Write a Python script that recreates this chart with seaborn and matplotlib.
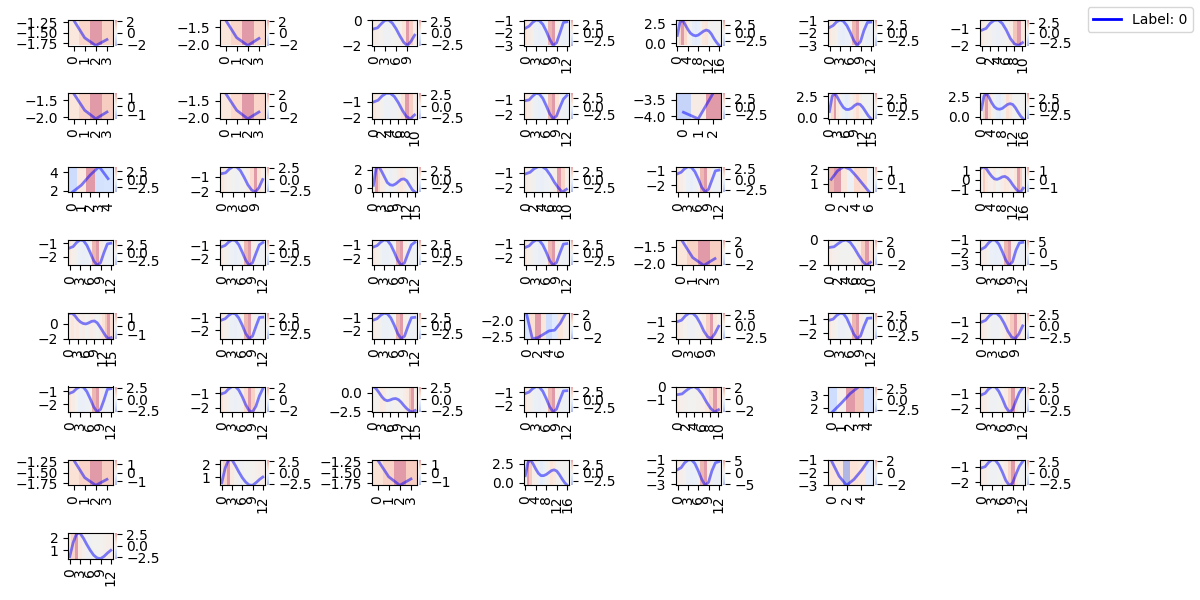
import numpy as np
import pandas as pd
import matplotlib
matplotlib.use("Agg")
import matplotlib.pyplot as plt
from matplotlib.lines import Line2D
from matplotlib.ticker import MultipleLocator
import seaborn as sns

# ---------------- data ----------------
LEGEND_LABEL = "Label: 0"

SERIES = [
    [-1.20, -1.62, -1.80, -1.66],
    [-1.30, -1.80, -2.02, -1.82],
    [-0.70, -0.62, -0.30, -0.02, 0.00, -0.25, -0.70, -1.25, -1.75, -2.02, -1.70, -1.20],
    [-1.60, -1.45, -1.15, -0.95, -1.00, -1.30, -1.85, -2.50, -3.02, -2.80, -2.00, -1.15, -1.10],
    [1.00, 2.70, 3.00, 2.40, 1.80, 1.30, 1.05, 0.95, 1.05, 1.30, 1.55, 1.70, 1.60, 1.20, 0.60, 0.10, -0.30],
    [-1.55, -1.40, -1.10, -0.95, -1.05, -1.40, -1.95, -2.60, -3.02, -2.70, -1.80, -1.15, -1.12],
    [-1.10, -1.00, -0.70, -0.52, -0.50, -0.70, -1.10, -1.60, -1.92, -2.02, -1.85],
    [-1.30, -1.80, -2.05, -1.85],
    [-1.28, -1.78, -2.03, -1.83],
    [-1.00, -0.90, -0.62, -0.45, -0.45, -0.65, -1.05, -1.55, -1.95, -2.10, -1.85],
    [-1.05, -1.00, -0.75, -0.55, -0.60, -0.90, -1.40, -1.95, -2.30, -2.10, -1.50, -0.95, -0.70],
    [-3.88, -4.08, -3.30],
    [0.70, 2.50, 2.85, 2.30, 1.70, 1.20, 0.95, 0.95, 1.10, 1.40, 1.60, 1.55, 1.20, 0.70, 0.20, -0.15],
    [0.90, 2.60, 2.95, 2.40, 1.75, 1.25, 1.00, 0.95, 1.05, 1.30, 1.55, 1.65, 1.55, 1.15, 0.60, 0.10, -0.25],
    [1.85, 2.60, 3.70, 4.60, 3.30],
    [-0.80, -0.75, -0.50, -0.33, -0.35, -0.60, -1.05, -1.55, -1.90, -2.05, -1.75, -1.20],
    [0.30, 2.20, 2.35, 1.80, 1.20, 0.60, 0.35, 0.30, 0.45, 0.70, 0.95, 1.00, 0.80, 0.30, -0.20, -0.45],
    [-1.05, -0.95, -0.70, -0.55, -0.55, -0.75, -1.15, -1.65, -2.05, -2.35, -2.15],
    [-1.20, -1.10, -0.85, -0.70, -0.75, -1.05, -1.55, -2.15, -2.50, -2.30, -1.65, -1.00, -0.95],
    [1.30, 1.90, 2.20, 2.00, 1.50, 0.95, 0.40],
    [1.20, 1.35, 1.10, 0.70, 0.35, 0.10, 0.05, 0.15, 0.30, 0.35, 0.20, -0.10, -0.50, -0.85, -1.15, -1.25, -0.85],
    [-1.35, -1.25, -0.95, -0.75, -0.80, -1.15, -1.70, -2.30, -2.65, -2.45, -1.70, -1.05, -1.00],
    [-1.10, -1.00, -0.75, -0.58, -0.62, -0.95, -1.50, -2.10, -2.50, -2.30, -1.60, -0.95, -0.78],
    [-1.15, -1.05, -0.80, -0.62, -0.66, -1.00, -1.55, -2.15, -2.55, -2.35, -1.65, -1.00, -0.80],
    [-1.25, -1.15, -0.88, -0.70, -0.74, -1.08, -1.62, -2.25, -2.62, -2.40, -1.68, -1.02, -0.98],
    [-1.30, -1.82, -2.05, -1.85],
    [-0.60, -0.55, -0.30, -0.08, 0.00, -0.20, -0.65, -1.20, -1.70, -2.05, -1.80],
    [-1.75, -1.60, -1.25, -1.00, -1.02, -1.35, -1.95, -2.65, -3.10, -2.80, -1.85, -1.25, -1.20],
    [1.40, 1.45, 1.10, 0.60, 0.25, 0.05, 0.00, 0.15, 0.35, 0.40, 0.15, -0.40, -1.00, -1.60, -2.00, -1.85],
    [-1.20, -1.10, -0.85, -0.67, -0.72, -1.05, -1.60, -2.25, -2.65, -2.45, -1.70, -1.00, -0.98],
    [-1.15, -1.05, -0.80, -0.63, -0.68, -1.00, -1.55, -2.20, -2.60, -2.40, -1.65, -0.98, -0.95],
    [-1.85, -2.55, -2.52, -2.42, -2.32, -2.30, -2.10, -1.80],
    [-1.00, -0.92, -0.65, -0.48, -0.48, -0.70, -1.10, -1.60, -1.95, -2.08, -1.75, -1.30],
    [-1.05, -0.98, -0.72, -0.55, -0.58, -0.92, -1.48, -2.05, -2.40, -2.20, -1.50, -0.92, -0.90],
    [-1.00, -0.90, -0.62, -0.45, -0.46, -0.68, -1.08, -1.58, -1.95, -2.06, -1.75, -1.25],
    [-1.15, -1.05, -0.80, -0.63, -0.68, -1.02, -1.58, -2.20, -2.60, -2.40, -1.68, -0.85, -0.80],
    [-1.05, -0.97, -0.72, -0.55, -0.55, -0.80, -1.25, -1.80, -2.20, -2.30, -1.90, -1.20, -0.70],
    [0.80, 0.50, 0.00, -0.55, -0.95, -1.10, -1.00, -0.85, -0.80, -0.95, -1.30, -1.75, -2.15, -2.45, -2.60, -2.40],
    [-1.10, -1.00, -0.75, -0.58, -0.62, -0.95, -1.50, -2.12, -2.52, -2.30, -1.58, -0.92, -0.90],
    [-0.60, -0.55, -0.30, -0.08, 0.01, -0.20, -0.60, -1.15, -1.62, -1.92, -1.75],
    [1.70, 2.40, 3.15, 3.70, 3.65],
    [-1.10, -1.00, -0.72, -0.55, -0.58, -0.88, -1.35, -1.90, -2.25, -2.10, -1.50, -0.95, -0.62],
    [-1.20, -1.62, -1.80, -1.66],
    [0.55, 1.70, 2.35, 2.35, 1.90, 1.40, 0.95, 0.60, 0.38, 0.35, 0.55, 0.80, 1.00],
    [-1.20, -1.60, -1.80, -1.65],
    [0.95, 2.65, 3.00, 2.45, 1.80, 1.25, 0.95, 0.95, 1.10, 1.35, 1.60, 1.70, 1.55, 1.10, 0.55, 0.05, -0.30],
    [-1.80, -1.65, -1.25, -1.02, -1.00, -1.30, -1.90, -2.60, -3.10, -2.85, -1.90, -1.25, -1.15],
    [-1.12, -2.30, -3.02, -2.55, -1.85, -1.00],
    [-1.05, -0.98, -0.70, -0.52, -0.55, -0.85, -1.32, -1.88, -2.22, -2.08, -1.48, -0.95, -0.62],
    [0.50, 1.60, 2.30, 2.35, 1.95, 1.45, 1.00, 0.62, 0.40, 0.35, 0.52, 0.78, 1.00],
]

ATTRIBUTIONS = [
    [0.5, 1.1, 2.2, 1.2],
    [0.6, 1.1, 2.2, 1.1],
    [0.5, 0.3, 0.1, -0.1, -0.1, 0.0, 0.0, 0.2, 0.8, 2.8, 1.6, 0.3],
    [1.2, 0.6, 0.4, -0.4, -0.5, -0.4, -0.2, 3.4, 4.0, 0.5, -0.3, -0.4, -0.3],
    [0.3, 2.0, 4.0, 1.8, 0.4, 0.0, -0.7, -0.9, -0.6, -0.3, 1.0, 1.2, 0.2, 0.0, -0.1, 0.0, 0.0],
    [1.0, 0.5, 0.3, -0.5, -0.6, -0.4, -0.2, 3.2, 4.0, 0.3, -0.3, -0.5, -0.4],
    [0.6, 0.3, 0.1, -0.2, -0.3, -0.2, 0.1, 0.6, 2.2, 3.2, 0.8],
    [0.4, 0.8, 1.5, 0.9],
    [0.5, 1.0, 2.2, 1.1],
    [0.7, 0.4, 0.1, -0.2, -0.2, -0.1, 0.2, 0.9, 2.8, 1.6, 0.3],
    [1.0, 0.6, 0.2, -0.3, -0.5, -0.4, -0.1, 3.0, 3.8, 1.2, -0.2, -0.3, -0.3],
    [-2.6, 0.6, 4.0],
    [0.2, 1.8, 4.0, 1.0, 0.3, -0.4, -0.8, -0.5, 0.2, 0.8, 1.6, 0.5, 0.0, 0.0, -0.1, 0.0],
    [0.3, 2.2, 4.0, 1.5, 0.3, -0.2, -0.7, -0.9, -0.4, 0.1, 1.4, 1.0, 0.2, 0.0, 0.0, -0.1, 0.0],
    [-2.2, 0.8, 4.0, -1.8, -1.6],
    [0.7, 0.3, 0.1, 0.0, -0.1, 0.0, 0.0, 0.3, 1.2, 2.8, 0.9, 0.3],
    [0.4, 3.8, 2.0, 0.7, 0.5, -0.1, -0.3, -0.2, 0.1, 0.6, 1.0, 0.7, 0.1, 0.0, 0.0, 0.2],
    [0.6, 0.4, 0.1, -0.4, -0.5, -0.3, 0.0, 0.5, 4.0, 2.0, 0.3],
    [0.8, 0.4, 0.1, -0.3, -0.4, -0.2, 0.1, 2.4, 3.0, 0.6, -0.1, -0.2, -0.1],
    [1.2, 1.5, 0.4, -0.1, 0.7, 0.6, -0.1],
    [0.2, 0.9, 0.4, 0.2, 0.1, 0.3, 0.0, 0.1, 0.2, 0.4, 0.3, 0.2, 0.1, 0.4, 1.5, 0.9, 0.1],
    [0.9, 0.4, 0.1, -0.4, -0.5, -0.4, -0.1, 3.3, 4.0, 0.6, -0.2, -0.3, -0.3],
    [0.8, 0.3, 0.1, -0.3, -0.5, -0.3, 0.0, 3.2, 4.0, 0.5, -0.2, -0.3, -0.2],
    [0.9, 0.4, 0.0, -0.4, -0.4, -0.3, -0.1, 3.4, 4.0, 0.7, -0.2, -0.2, -0.3],
    [0.8, 0.4, 0.1, -0.3, -0.5, -0.4, 0.0, 3.2, 4.0, 0.5, -0.1, -0.3, -0.2],
    [0.6, 1.2, 2.2, 1.3],
    [0.4, 0.2, 0.1, 0.0, 0.0, 0.0, 0.1, 0.4, 1.3, 2.2, 0.8],
    [1.0, 0.6, 0.2, -0.6, -0.8, -0.6, -0.2, 4.5, 5.5, 0.6, -0.4, -0.6, -0.5],
    [0.2, 0.4, 0.2, 0.3, 0.1, 0.2, 0.0, 0.1, 0.2, 0.1, 0.0, 0.2, 0.5, 1.0, 1.5, 0.6],
    [0.8, 0.3, 0.1, -0.4, -0.5, -0.3, 0.0, 3.2, 4.0, 0.4, -0.2, -0.3, -0.2],
    [0.7, 0.3, 0.1, -0.4, -0.4, -0.3, 0.0, 3.2, 4.0, 0.5, -0.2, -0.3, -0.2],
    [-0.8, 0.8, 2.2, 0.6, -1.2, -0.6, 0.6, 0.2],
    [0.6, 0.3, 0.1, -0.1, -0.1, 0.0, 0.1, 0.5, 1.6, 2.8, 0.7, 0.2],
    [0.7, 0.3, 0.0, -0.3, -0.3, -0.2, 0.0, 2.6, 3.2, 0.5, -0.2, -0.2, -0.1],
    [0.6, 0.3, 0.0, -0.1, -0.1, 0.0, 0.2, 0.8, 1.8, 2.8, 0.9, 0.2],
    [0.8, 0.4, 0.1, -0.3, -0.3, -0.2, 0.0, 2.3, 2.8, 0.4, -0.2, -0.2, -0.1],
    [0.7, 0.3, 0.1, -0.1, -0.2, -0.1, 0.1, 0.9, 2.2, 1.2, 0.1, -0.1, -0.1],
    [0.2, 0.1, 0.2, 0.6, 0.5, 0.1, -0.1, 0.0, 0.1, 0.0, 0.1, 0.3, 0.6, 2.0, 2.8, 0.4],
    [0.8, 0.4, 0.1, -0.4, -0.5, -0.3, 0.0, 3.2, 4.0, 0.5, -0.2, -0.3, -0.2],
    [0.4, 0.2, 0.1, 0.0, 0.0, 0.1, 0.2, 0.6, 1.1, 2.2, 1.0],
    [-1.6, 0.2, 3.0, 2.2, -1.5],
    [0.6, 0.3, 0.1, -0.1, -0.1, 0.0, 0.1, 0.5, 1.5, 2.8, 0.6, 0.0, -0.1],
    [0.5, 0.8, 1.5, 0.9],
    [0.6, 1.5, 2.8, 0.6, 0.2, -0.1, -0.1, 0.0, 0.0, 0.1, 0.2, 0.3, 0.3],
    [0.5, 0.8, 1.5, 0.9],
    [0.2, 4.0, 2.5, 0.5, 0.3, -0.3, -0.8, -0.4, 0.1, 0.3, 1.1, 0.8, 0.2, 0.1, 0.0, 0.0, 0.0],
    [0.9, 0.5, 0.2, -0.5, -0.8, -0.6, -0.2, 4.5, 5.5, 0.8, -0.4, -0.5, -0.5],
    [0.6, 0.5, -2.2, 0.7, 0.6, -0.6],
    [0.6, 0.3, 0.1, -0.1, -0.1, 0.0, 0.1, 0.5, 1.5, 2.8, 0.6, 0.0, -0.1],
    [0.6, 1.5, 2.8, 0.6, 0.2, -0.1, -0.1, 0.0, 0.0, 0.1, 0.2, 0.3, 0.3],
]

# x tick spacing used in the reference, by series length
X_TICK_STEP = {3: 1, 4: 1, 5: 1, 6: 2, 7: 2, 8: 2, 11: 2, 12: 3, 13: 3, 16: 3, 17: 4}

# ---------------- layout (pixels of a 1200x600 canvas) ----------------
W, H = 1200, 600
N_COLS = 7
AX_LEFT0, AX_DX, AX_W = 68, 152, 44.5
AX_TOP0, AX_DY, AX_H = 20, 73.3, 25.5
CB_GAP, CB_W = 2.7, 1.4

fig = plt.figure(figsize=(12, 6), dpi=100)

for i, (vals, attr) in enumerate(zip(SERIES, ATTRIBUTIONS)):
    r, c = divmod(i, N_COLS)
    left = (AX_LEFT0 + c * AX_DX) / W
    bottom = 1 - (AX_TOP0 + r * AX_DY + AX_H) / H
    ax = fig.add_axes([left, bottom, AX_W / W, AX_H / H])

    y = np.asarray(vals, dtype=float)
    a = np.asarray(attr, dtype=float)
    n = len(y)
    ymin, ymax = y.min(), y.max()
    vmax = np.abs(a).max()

    im = ax.imshow(a[np.newaxis, :], cmap="coolwarm", aspect="auto", alpha=0.4,
                   vmin=-vmax, vmax=vmax, extent=[-0.5, n - 0.5, ymin, ymax],
                   interpolation="nearest", zorder=0)
    df = pd.DataFrame({"t": np.arange(n), "v": y})
    sns.lineplot(data=df, x="t", y="v", ax=ax, color="blue", alpha=0.5,
                 linewidth=2, zorder=2)
    ax.set_xlim(-0.5, n - 0.5)
    ax.set_ylim(ymin, ymax)
    ax.set_xlabel("")
    ax.set_ylabel("")
    ax.xaxis.set_major_locator(MultipleLocator(X_TICK_STEP[n]))
    ax.tick_params(axis="x", labelrotation=90)

    cax = ax.inset_axes([1 + CB_GAP / AX_W, 0, CB_W / AX_W, 1])
    cb = fig.colorbar(im, cax=cax)
    cb.outline.set_visible(False)

fig.legend(handles=[Line2D([0], [0], color="blue", lw=2)], labels=[LEGEND_LABEL],
           loc="upper right")

fig.savefig("out.png", dpi=100)
